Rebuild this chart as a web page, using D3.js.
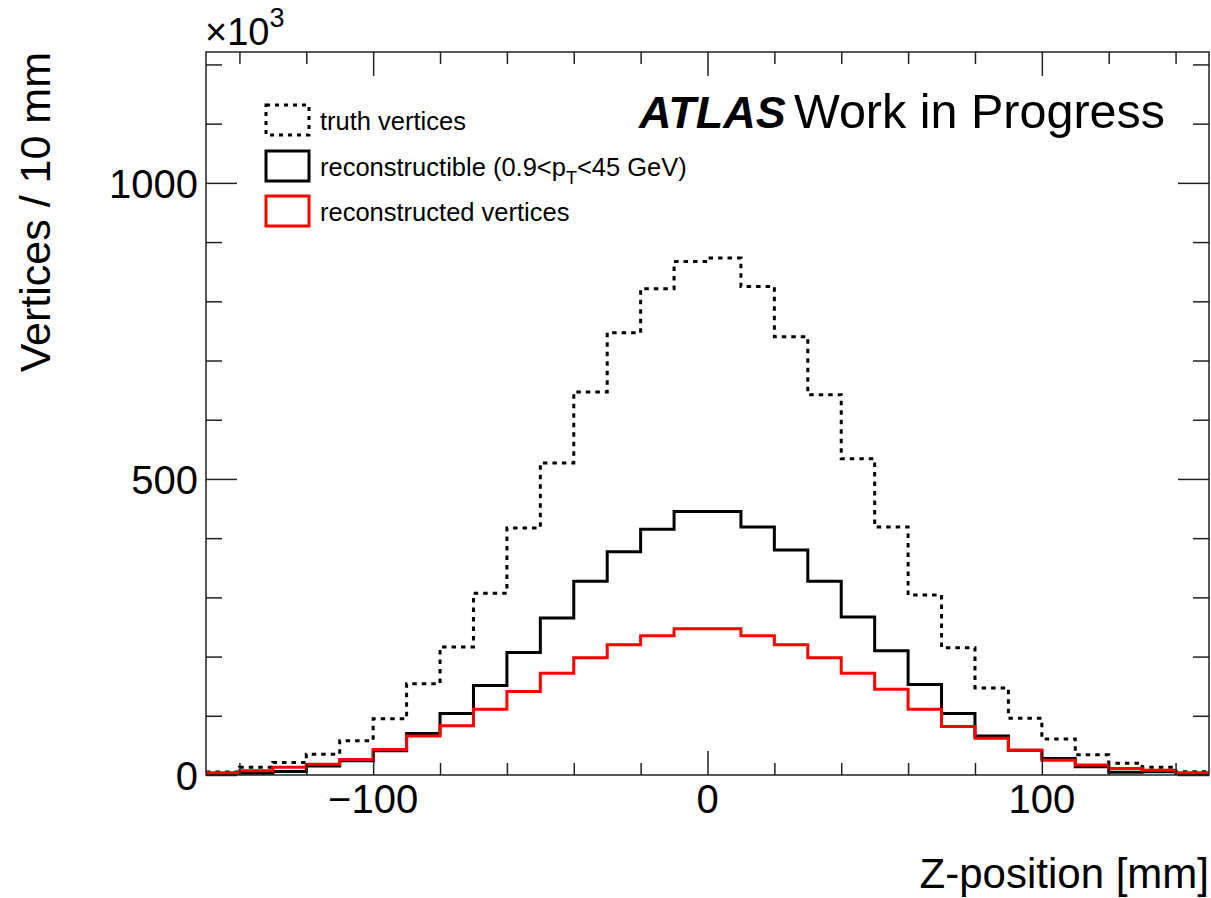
<!DOCTYPE html>
<html>
  <head>
    <title>Vertices vs Z-position</title>
    <script src="https://d3js.org/d3.v7.min.js"></script>
    <style>
      body { margin: 0; background: white; }
      svg { font-family: "Liberation Sans", Arial, sans-serif; }
      .axis path { display: none; }
      .axis line { stroke: #222; stroke-width: 1.5; }
    </style>
  </head>
  <body>
    <svg width="1211" height="898"></svg>
    <script>
      // bin lower edges (10 mm bins)
      var zLow = [-150, -140, -130, -120, -110, -100, -90, -80, -70, -60,
                  -50, -40, -30, -20, -10, 0, 10, 20, 30, 40,
                  50, 60, 70, 80, 90, 100, 110, 120, 130, 140];
      var zHigh = 150;

      // values in units of 10^3
      var truthVertices = [5, 13, 21, 35, 58, 95, 154, 216, 307, 417,
                           527, 647, 747, 821, 867, 873, 825, 740, 642, 534,
                           419, 304, 215, 147, 96, 61, 34, 20, 13, 5.5];
      var reconstructible = [2, 3, 6, 15, 24, 41, 70, 104, 151, 207,
                             265, 327, 377, 415, 445, 445, 419, 380, 327, 267,
                             210, 153, 104, 66, 42, 28, 14, 4.5, 5.5, 2];
      var reconstructed = [4, 7, 13, 18, 26, 43, 66, 83, 111, 141,
                           172, 198, 220, 235, 247, 247, 235, 220, 198, 172,
                           145, 111, 82, 62, 42, 25, 17, 11, 8, 4];

      var xMajor = [-100, 0, 100];
      var xMinor = [-140, -120, -80, -60, -40, -20, 20, 40, 60, 80, 120, 140];
      var yMajor = [0, 500, 1000];
      var yMinor = [100, 200, 300, 400, 600, 700, 800, 900, 1100, 1200];

      var frame = { left: 206, right: 1209, top: 52, bottom: 775 };
      var svg = d3.select("svg");

      var x = d3.scaleLinear().domain([-150, 150]).range([frame.left, frame.right]);
      var y = d3.scaleLinear().domain([0, 1221]).range([frame.bottom, frame.top]);

      svg.append("defs").append("clipPath").attr("id", "plotclip")
        .append("rect")
        .attr("x", frame.left).attr("y", frame.top)
        .attr("width", frame.right - frame.left)
        .attr("height", frame.bottom - frame.top);

      // histograms as steps
      function stepPoints(vals) {
        var pts = zLow.map(function (z, i) { return [z, vals[i]]; });
        pts.push([zHigh, vals[vals.length - 1]]);
        return pts;
      }
      var step = d3.line()
        .x(function (d) { return x(d[0]); })
        .y(function (d) { return y(d[1]); })
        .curve(d3.curveStepAfter);

      var hists = svg.append("g").attr("clip-path", "url(#plotclip)");
      hists.append("path").attr("d", step(stepPoints(truthVertices)))
        .attr("fill", "none").attr("stroke", "black").attr("stroke-width", 3)
        .attr("stroke-dasharray", "4.5,5");
      hists.append("path").attr("d", step(stepPoints(reconstructible)))
        .attr("fill", "none").attr("stroke", "black").attr("stroke-width", 3);
      hists.append("path").attr("d", step(stepPoints(reconstructed)))
        .attr("fill", "none").attr("stroke", "#ff0000").attr("stroke-width", 3);

      // ticks on all four sides
      function ticks(axisFn, scale, vals, len, tx, ty) {
        svg.append("g").attr("class", "axis")
          .attr("transform", "translate(" + tx + "," + ty + ")")
          .call(axisFn(scale).tickValues(vals).tickSize(len).tickFormat(""));
      }
      ticks(d3.axisBottom, x, xMajor, -24, 0, frame.bottom);
      ticks(d3.axisBottom, x, xMinor, -12, 0, frame.bottom);
      ticks(d3.axisTop, x, xMajor, -24, 0, frame.top);
      ticks(d3.axisTop, x, xMinor, -12, 0, frame.top);
      ticks(d3.axisLeft, y, yMajor, -31, frame.left, 0);
      ticks(d3.axisLeft, y, yMinor, -16, frame.left, 0);
      ticks(d3.axisRight, y, yMajor, -31, frame.right, 0);
      ticks(d3.axisRight, y, yMinor, -16, frame.right, 0);

      svg.append("rect")
        .attr("x", frame.left).attr("y", frame.top)
        .attr("width", frame.right - frame.left)
        .attr("height", frame.bottom - frame.top)
        .attr("fill", "none").attr("stroke", "#222").attr("stroke-width", 1.5);

      // tick labels
      svg.selectAll("text.xlab").data(xMajor).enter().append("text")
        .attr("class", "xlab")
        .attr("x", function (d) { return x(d); })
        .attr("y", 813)
        .attr("text-anchor", "middle")
        .style("font-size", "40px")
        .text(function (d) { return d < 0 ? "\u2212" + Math.abs(d) : d; });

      svg.selectAll("text.ylab").data(yMajor).enter().append("text")
        .attr("class", "ylab")
        .attr("x", 198)
        .attr("y", function (d) { return y(d) + 15; })
        .attr("text-anchor", "end")
        .style("font-size", "40px")
        .text(function (d) { return d; });

      // exponent label
      var expo = svg.append("text").attr("x", 205).attr("y", 45).style("font-size", "38px");
      expo.append("tspan").text("\u00d710");
      expo.append("tspan").attr("dy", -18).style("font-size", "27px").text("3");

      // axis titles
      svg.append("text")
        .attr("x", frame.right).attr("y", 888)
        .attr("text-anchor", "end")
        .style("font-size", "42px")
        .text("Z-position [mm]");
      svg.append("text")
        .attr("transform", "translate(50," + frame.top + ") rotate(-90)")
        .attr("text-anchor", "end")
        .style("font-size", "43px")
        .text("Vertices / 10 mm");

      // ATLAS label
      svg.append("text").attr("x", 639).attr("y", 128)
        .style("font-size", "45px").style("font-weight", "bold").style("font-style", "italic")
        .text("ATLAS");
      svg.append("text").attr("x", 794).attr("y", 128)
        .style("font-size", "48.5px")
        .text("Work in Progress");

      // legend
      var legendRows = [
        { dash: "4,5", color: "black", cy: 120 },
        { dash: null, color: "black", cy: 166 },
        { dash: null, color: "#ff0000", cy: 211 }
      ];
      legendRows.forEach(function (r) {
        svg.append("rect")
          .attr("x", 266).attr("y", r.cy - 15)
          .attr("width", 43).attr("height", 30)
          .attr("fill", "none").attr("stroke", r.color).attr("stroke-width", 3)
          .attr("stroke-dasharray", r.dash);
      });
      svg.append("text").attr("x", 320).attr("y", 130).style("font-size", "25.5px").text("truth vertices");
      var t2 = svg.append("text").attr("x", 320).attr("y", 176).style("font-size", "25.5px");
      t2.append("tspan").text("reconstructible (0.9<p");
      t2.append("tspan").attr("dy", 8).style("font-size", "18px").text("T");
      t2.append("tspan").attr("dy", -8).text("<45 GeV)");
      svg.append("text").attr("x", 320).attr("y", 221).style("font-size", "25.5px").text("reconstructed vertices");
    </script>
  </body>
</html>
